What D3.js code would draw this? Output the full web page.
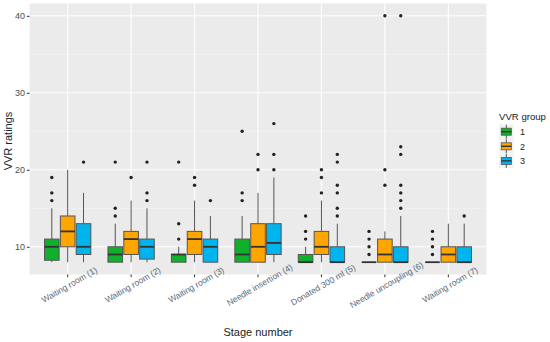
<!DOCTYPE html>
<html>
<head>
<meta charset="utf-8">
<script src="https://cdn.jsdelivr.net/npm/d3@7.9.0/dist/d3.min.js"></script>
<style>
  body { margin: 0; background: #fff; }
  svg { font-family: "Liberation Sans", Arial, sans-serif; }
</style>
</head>
<body>
<svg id="chart" width="550" height="342"></svg>
<script>
const stages = ['Waiting room (1)', 'Waiting room (2)', 'Waiting room (3)', 'Needle insertion (4)',
  'Donated 300 ml (5)', 'Needle uncoupling (6)', 'Waiting room (7)'];
const groups = ['1', '2', '3'];
const colors = ['#10b02c', '#ffa500', '#00b4ee'];

// per group, one value per stage
const whiskerLow = [
  [8, 8, 8, 8, 8, 8, 8],
  [8, 8, 8, 8, 8, 8, 8],
  [8, 8, 8, 8, 8, 8, 8]
];
const q1 = [
  [8.25, 8, 8, 8, 8, 8, 8],
  [10, 9, 9, 8, 9, 8, 8],
  [9, 8.4, 8, 9, 8, 8, 8]
];
const median = [
  [10, 9, 9, 9, 8, 8, 8],
  [12, 11, 11, 10, 10, 9, 9],
  [10, 10, 10, 10.5, 8, 8, 8]
];
const q3 = [
  [11, 10, 9, 11, 9, 8, 8],
  [14, 12, 12, 13, 12, 11, 10],
  [13, 11, 11, 13, 10, 10, 10]
];
const whiskerHigh = [
  [15, 13, 10, 14, 10, 8, 8],
  [20, 16, 16, 17, 16, 12, 13],
  [17, 15, 14, 19, 13, 14, 13]
];
const outliers = [
  [[16, 17, 19], [14, 15, 21], [11, 13, 21], [16, 17, 25], [11, 12, 14], [9, 10, 11, 12], [9, 10, 11, 12]],
  [[], [19], [18, 19], [20, 22], [17, 19, 20], [18, 20, 40], []],
  [[21], [16, 17, 21], [16], [20, 22, 26], [14, 15, 17, 18, 21, 22], [15, 16, 17, 18, 22, 23, 40], [14]]
];
const yTicks = [10, 20, 30, 40];
const yMinor = [15, 25, 35];

const svg = d3.select('#chart');
const panel = { left: 29.6, right: 486.4, top: 3.5, bottom: 274.5 };

const x = d3.scaleBand().domain(stages).range([panel.left, panel.right])
  .paddingInner(0).paddingOuter(0.1);
const step = x.step();
const xg = d3.scaleBand().domain(groups).range([-0.375 * step, 0.375 * step]);
const boxW = xg.bandwidth() * 0.92;
const y = d3.scaleLinear().domain([6.4, 41.6]).range([panel.bottom, panel.top]);

// panel background
svg.append('rect')
  .attr('x', panel.left).attr('y', panel.top)
  .attr('width', panel.right - panel.left).attr('height', panel.bottom - panel.top)
  .attr('fill', '#ebebeb');

// grid
svg.selectAll('.minor').data(yMinor).join('line')
  .attr('x1', panel.left).attr('x2', panel.right)
  .attr('y1', d => y(d)).attr('y2', d => y(d))
  .attr('stroke', '#f7f7f7').attr('stroke-width', 0.6);
svg.selectAll('.major').data(yTicks).join('line')
  .attr('x1', panel.left).attr('x2', panel.right)
  .attr('y1', d => y(d)).attr('y2', d => y(d))
  .attr('stroke', '#fff').attr('stroke-width', 1.1);
svg.selectAll('.vgrid').data(stages).join('line')
  .attr('x1', d => x(d) + x.bandwidth() / 2).attr('x2', d => x(d) + x.bandwidth() / 2)
  .attr('y1', panel.top).attr('y2', panel.bottom)
  .attr('stroke', '#fff').attr('stroke-width', 1.1);

// boxes
groups.forEach((g, gi) => {
  stages.forEach((s, si) => {
    const cx = x(s) + x.bandwidth() / 2 + xg(g) + xg.bandwidth() / 2;
    const grp = svg.append('g');
    grp.append('line')
      .attr('x1', cx).attr('x2', cx)
      .attr('y1', y(whiskerHigh[gi][si])).attr('y2', y(q3[gi][si]))
      .attr('stroke', '#555').attr('stroke-width', 1);
    grp.append('line')
      .attr('x1', cx).attr('x2', cx)
      .attr('y1', y(q1[gi][si])).attr('y2', y(whiskerLow[gi][si]))
      .attr('stroke', '#555').attr('stroke-width', 1);
    grp.append('rect')
      .attr('x', cx - boxW / 2).attr('width', boxW)
      .attr('y', y(q3[gi][si]))
      .attr('height', Math.max(0, y(q1[gi][si]) - y(q3[gi][si])))
      .attr('fill', colors[gi]).attr('stroke', '#555').attr('stroke-width', 1);
    grp.append('line')
      .attr('x1', cx - boxW / 2).attr('x2', cx + boxW / 2)
      .attr('y1', y(median[gi][si])).attr('y2', y(median[gi][si]))
      .attr('stroke', '#333').attr('stroke-width', 1.8);
    grp.selectAll('circle').data(outliers[gi][si]).join('circle')
      .attr('cx', cx).attr('cy', d => y(d)).attr('r', 1.7)
      .attr('fill', '#222');
  });
});

// axes
const yAxis = svg.append('g').attr('transform', `translate(${panel.left},0)`)
  .call(d3.axisLeft(y).tickValues(yTicks).tickSize(2.7).tickPadding(2));
yAxis.select('.domain').remove();
yAxis.selectAll('line').attr('stroke', '#333');
yAxis.selectAll('text').attr('fill', '#4d4d4d').attr('font-size', 9)
  .attr('font-family', '"Liberation Sans", Arial, sans-serif');

const xAxis = svg.append('g').attr('transform', `translate(0,${panel.bottom})`)
  .call(d3.axisBottom(x).tickSize(2.7).tickFormat(''));
xAxis.select('.domain').remove();
xAxis.selectAll('line').attr('stroke', '#333');

svg.selectAll('.xlab').data(stages).join('text')
  .attr('transform', d => `translate(${x(d) + x.bandwidth() / 2 + 2},${panel.bottom + 11}) rotate(-30)`)
  .attr('text-anchor', 'middle').attr('dominant-baseline', 'middle')
  .attr('font-size', 8.5).attr('fill', '#55677a')
  .text(d => d);

// titles
svg.append('text')
  .attr('x', (panel.left + panel.right) / 2).attr('y', 336)
  .attr('text-anchor', 'middle').attr('font-size', 11).attr('fill', '#222')
  .text('Stage number');
svg.append('text')
  .attr('transform', `translate(12,${(panel.top + panel.bottom) / 2 + 2}) rotate(-90)`)
  .attr('text-anchor', 'middle').attr('font-size', 11).attr('fill', '#222')
  .text('VVR ratings');

// legend
const legend = svg.append('g');
legend.append('text')
  .attr('x', 499).attr('y', 120).attr('font-size', 9.6).attr('fill', '#222')
  .text('VVR group');
groups.forEach((g, gi) => {
  const cy = 131.7 + gi * 14.6;
  legend.append('rect')
    .attr('x', 499).attr('y', cy - 7.3).attr('width', 14.6).attr('height', 14.6)
    .attr('fill', '#f2f2f2');
  legend.append('line')
    .attr('x1', 506.3).attr('x2', 506.3).attr('y1', cy - 7).attr('y2', cy + 7)
    .attr('stroke', '#555').attr('stroke-width', 1);
  legend.append('rect')
    .attr('x', 501.3).attr('y', cy - 3.5).attr('width', 10).attr('height', 7)
    .attr('fill', colors[gi]).attr('stroke', '#555').attr('stroke-width', 0.8);
  legend.append('line')
    .attr('x1', 501.3).attr('x2', 511.3).attr('y1', cy).attr('y2', cy)
    .attr('stroke', '#333').attr('stroke-width', 1.4);
  legend.append('text')
    .attr('x', 520).attr('y', cy + 3.5).attr('font-size', 9).attr('fill', '#222')
    .text(g);
});
</script>
</body>
</html>
